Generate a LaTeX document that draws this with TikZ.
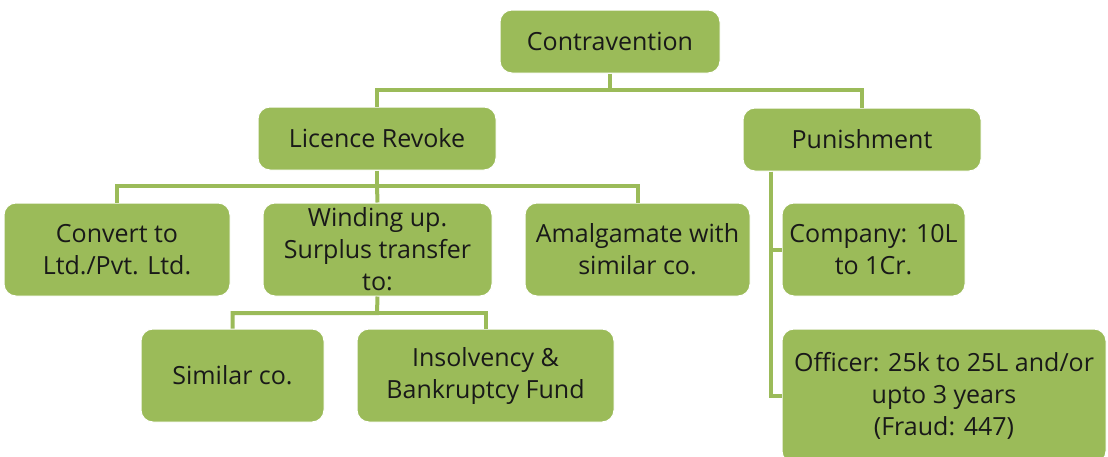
\documentclass[tikz,border=0pt]{standalone}
\usepackage{fontspec}
\setmainfont{Open Sans}
\definecolor{gr}{HTML}{9BBB59}
\tikzset{
  box/.style={fill=gr, draw=white, line width=1pt, rounded corners=12pt, align=center,
    font=\fontsize{25}{32}\selectfont, inner sep=1pt, text=black!90},
  conn/.style={draw=gr, line width=4pt}
}
\begin{document}
\begin{tikzpicture}[x=1pt,y=-1pt]
\useasboundingbox (0,0) rectangle (1108,456);
% nodes
\node[box, minimum width=220pt, minimum height=63pt] (c) at (610,41.5) {Contravention};
\node[box, minimum width=238pt, minimum height=63pt] (lr) at (377,138.5) {Licence Revoke};
\node[box, minimum width=238pt, minimum height=63pt] (pu) at (862,139.5) {Punishment};
\node[box, minimum width=226pt, minimum height=93pt] (cv) at (117,249.5) {Convert to\\Ltd./Pvt. Ltd.};
\node[box, minimum width=229pt, minimum height=93pt] (wu) at (377.5,249.5) {Winding up.\\Surplus transfer\\to:};
\node[box, minimum width=225pt, minimum height=93pt] (am) at (637.5,249.5) {Amalgamate with\\similar co.};
\node[box, minimum width=183pt, minimum height=93pt] (co) at (873.5,249.5) {Company: 10L\\to 1Cr.};
\node[box, minimum width=183pt, minimum height=93pt] (sc) at (232.5,375.5) {Similar co.};
\node[box, minimum width=257pt, minimum height=93pt] (ib) at (485.5,375.5) {Insolvency \&\\Bankruptcy Fund};
\node[box, minimum width=324pt, minimum height=134pt] (of) at (944,396) {Officer: 25k to 25L and/or\\upto 3 years\\(Fraud: 447)};
% junctions
\coordinate (j1) at (610,90);
\coordinate (j2) at (377,186);
\coordinate (j3) at (377,313);
% connectors
\draw[conn] (c.south) -- (j1) -| (lr.north);
\draw[conn] (j1) -| (pu.north);
\draw[conn] (lr.south) -- (j2) -| (cv.north);
\draw[conn] (j2) -- (wu.north);
\draw[conn] (j2) -| (am.north);
\draw[conn] (wu.south) -- (j3) -| (sc.north);
\draw[conn] (j3) -| (ib.north);
\draw[conn] (pu.south west) ++(28,0) |- (co.west);
\draw[conn] (pu.south west) ++(28,0) |- (of.west);
\end{tikzpicture}
\end{document}
